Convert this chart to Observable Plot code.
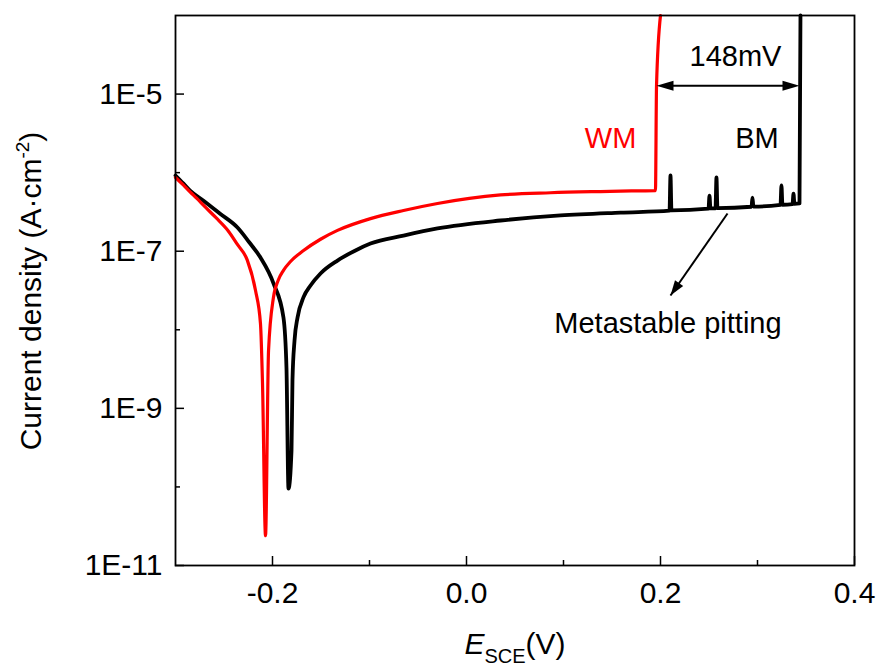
<!DOCTYPE html>
<html>
<head>
<meta charset="utf-8">
<script src="https://cdn.jsdelivr.net/npm/d3@7"></script>
<script src="https://cdn.jsdelivr.net/npm/@observablehq/plot@0.6"></script>
<style>
  html, body { margin: 0; padding: 0; background: #fff; }
  #chart svg { display: block; }
</style>
</head>
<body>
<div id="chart"></div>
<script>
// WM (weld metal) polarization curve
const redE = [-0.300, -0.292, -0.285, -0.278, -0.271, -0.258, -0.246, -0.236, -0.226, -0.2175, -0.2124, -0.2103, -0.2072, -0.2041, -0.1990, -0.1940, -0.1887, -0.1814, -0.1680, -0.1505, -0.1330, -0.0990, -0.0649, -0.0299, 0.0030, 0.0351, 0.0866, 0.1381, 0.1700, 0.1948, 0.1959, 0.2000];
const redI = [8.67e-7, 6.97e-7, 5.68e-7, 4.69e-7, 3.82e-7, 2.65e-7, 1.84e-7, 1.21e-7, 7.7e-8, 3.16e-8, 1.2e-8, 2.07e-9, 2.4e-11, 5.4e-9, 2.6e-8, 4.3e-8, 5.7e-8, 7.4e-8, 1.02e-7, 1.42e-7, 1.84e-7, 2.6e-7, 3.3e-7, 4.05e-7, 4.7e-7, 5.2e-7, 5.55e-7, 5.75e-7, 5.85e-7, 5.9e-7, 1.28e-5, 1e-4];

// BM (base metal) polarization curve, with metastable pitting spikes
const blackE = [-0.300, -0.292, -0.285, -0.2711, -0.254, -0.2361, -0.2240, -0.2124, -0.1990, -0.1887, -0.1856, -0.1835, -0.1804, -0.1794, -0.1773, -0.1742, -0.1680, -0.1608, -0.1505, -0.1330, -0.1160, -0.0990, -0.0649, -0.0299, 0.0351, 0.0969, 0.1588,
  0.2093, 0.2103, 0.2113, 0.2495, 0.2505, 0.2515, 0.2567, 0.2577, 0.2587, 0.2938, 0.2948, 0.2958, 0.3237, 0.3247, 0.3257, 0.3361, 0.3371, 0.3381, 0.3433, 0.3443];
const blackI = [9.2e-7, 7.3e-7, 5.9e-7, 4.4e-7, 3.0e-7, 2.0e-7, 1.3e-7, 8.3e-8, 3.9e-8, 1.43e-8, 3.3e-9, 9.5e-11, 2.9e-10, 2.3e-9, 7.3e-9, 1.43e-8, 2.6e-8, 3.66e-8, 5.2e-8, 7.6e-8, 1.0e-7, 1.25e-7, 1.58e-7, 1.95e-7, 2.46e-7, 2.85e-7, 3.1e-7,
  3.28e-7, 9.2e-7, 3.3e-7, 3.48e-7, 5.1e-7, 3.5e-7, 3.52e-7, 8.7e-7, 3.53e-7, 3.68e-7, 4.8e-7, 3.7e-7, 3.88e-7, 6.9e-7, 3.9e-7, 3.98e-7, 5.4e-7, 4.0e-7, 4.05e-7, 1e-4];

// axes
const xTicks = [-0.2, 0.0, 0.2, 0.4];
const xMinor = [-0.1, 0.1, 0.3];
const yTicks = [1e-5, 1e-7, 1e-9, 1e-11];
const yMinor = [1e-6, 1e-8, 1e-10];

// annotations
const gapE = [0.1959, 0.3433];
const gapI = [1.28e-5, 1.28e-5];
const pitArrowE = [0.2691, 0.2103];
const pitArrowI = [3.02e-7, 2.73e-8];
const labelText = ["WM", "BM", "148mV", "Metastable pitting"];
const labelE = [0.1485, 0.2995, 0.2773, 0.2077];
const labelI = [2.69e-6, 2.69e-6, 2.97e-5, 1.2e-8];
const labelColor = ["#ff0000", "#000000", "#000000", "#000000"];

const red = redE.map((e, k) => ({E: e, I: redI[k]}));
const black = blackE.map((e, k) => ({E: e, I: blackI[k]}));
const labels = labelText.map((t, k) => ({t, E: labelE[k], I: labelI[k], c: labelColor[k]}));

const head = {draw(ctx) { ctx.moveTo(0, 0); ctx.lineTo(-17, -5); ctx.lineTo(-17, 5); ctx.closePath(); }};
const pitHead = {draw(ctx) { ctx.moveTo(0, 0); ctx.lineTo(-15, -5); ctx.lineTo(-15, 5); ctx.closePath(); }};

const FONT = "'Liberation Sans', Arial, Helvetica, sans-serif";

const plot = Plot.plot({
  width: 878,
  height: 666,
  marginLeft: 175,
  marginRight: 24,
  marginTop: 15,
  marginBottom: 101,
  style: {fontFamily: FONT, fontSize: "30px", background: "#fff", color: "#000"},
  x: {domain: [-0.3, 0.4]},
  y: {type: "log", domain: [1e-11, 1e-4]},
  marks: [
    Plot.line(black, {x: "E", y: "I", curve: "monotone-x", stroke: "#000", strokeWidth: 3.8, strokeLinejoin: "round", strokeLinecap: "round"}),
    Plot.line(red, {x: "E", y: "I", curve: "monotone-x", stroke: "#ff0000", strokeWidth: 3.2, strokeLinejoin: "round", strokeLinecap: "round"}),
    Plot.frame({stroke: "#000", strokeWidth: 1.8}),
    Plot.tickX(xTicks, {x: d => d, insetTop: 541, stroke: "#000", strokeWidth: 1.5}),
    Plot.tickX(xMinor, {x: d => d, insetTop: 545, stroke: "#000", strokeWidth: 1.5}),
    Plot.tickY(yTicks, {y: d => d, insetRight: 670, stroke: "#000", strokeWidth: 1.5}),
    Plot.tickY(yMinor, {y: d => d, insetRight: 674, stroke: "#000", strokeWidth: 1.5}),
    Plot.axisX({ticks: xTicks, tickSize: 0, tickPadding: 16, fontSize: 30, tickFormat: d => d.toFixed(1), label: null}),
    Plot.axisY({ticks: yTicks, tickSize: 0, tickPadding: 13, fontSize: 30, tickFormat: d => "1E" + Math.round(Math.log10(d)), label: null}),
    // 148 mV double arrow
    Plot.link([0], {x1: () => gapE[0] + 0.012, x2: () => gapE[1] - 0.012, y1: () => gapI[0], y2: () => gapI[1], stroke: "#000", strokeWidth: 2}),
    Plot.dot([0, 1], {x: k => gapE[k], y: k => gapI[k], rotate: k => k === 0 ? 180 : 0, symbol: head, fill: "#000", stroke: "none"}),
    // metastable pitting arrow
    Plot.link([0], {x1: () => pitArrowE[0], y1: () => pitArrowI[0], x2: () => pitArrowE[1], y2: () => pitArrowI[1], stroke: "#000", strokeWidth: 2}),
    Plot.dot([1], {x: k => pitArrowE[k], y: k => pitArrowI[k], rotate: 125, symbol: pitHead, fill: "#000", stroke: "none"}),
    Plot.text(labels, {x: "E", y: "I", text: "t", fill: "c", fontSize: 29, textAnchor: "middle"})
  ]
});

const svg = d3.select(plot);
// y axis title
const yl = svg.append("text")
  .attr("transform", "translate(41,291) rotate(-90)")
  .attr("text-anchor", "middle")
  .style("font-family", FONT).style("font-size", "30px").attr("fill", "#000");
yl.append("tspan").text("Current density (A·cm");
yl.append("tspan").attr("dy", "-12").style("font-size", "19px").text("-2");
yl.append("tspan").attr("dy", "12").text(")");
// x axis title
const xl = svg.append("text")
  .attr("x", 515).attr("y", 654)
  .attr("text-anchor", "middle")
  .style("font-family", FONT).style("font-size", "30px").attr("fill", "#000");
xl.append("tspan").style("font-style", "italic").text("E");
xl.append("tspan").attr("dy", "9").style("font-size", "20px").text("SCE");
xl.append("tspan").attr("dy", "-9").text("(V)");

document.getElementById("chart").appendChild(plot);
</script>
</body>
</html>
